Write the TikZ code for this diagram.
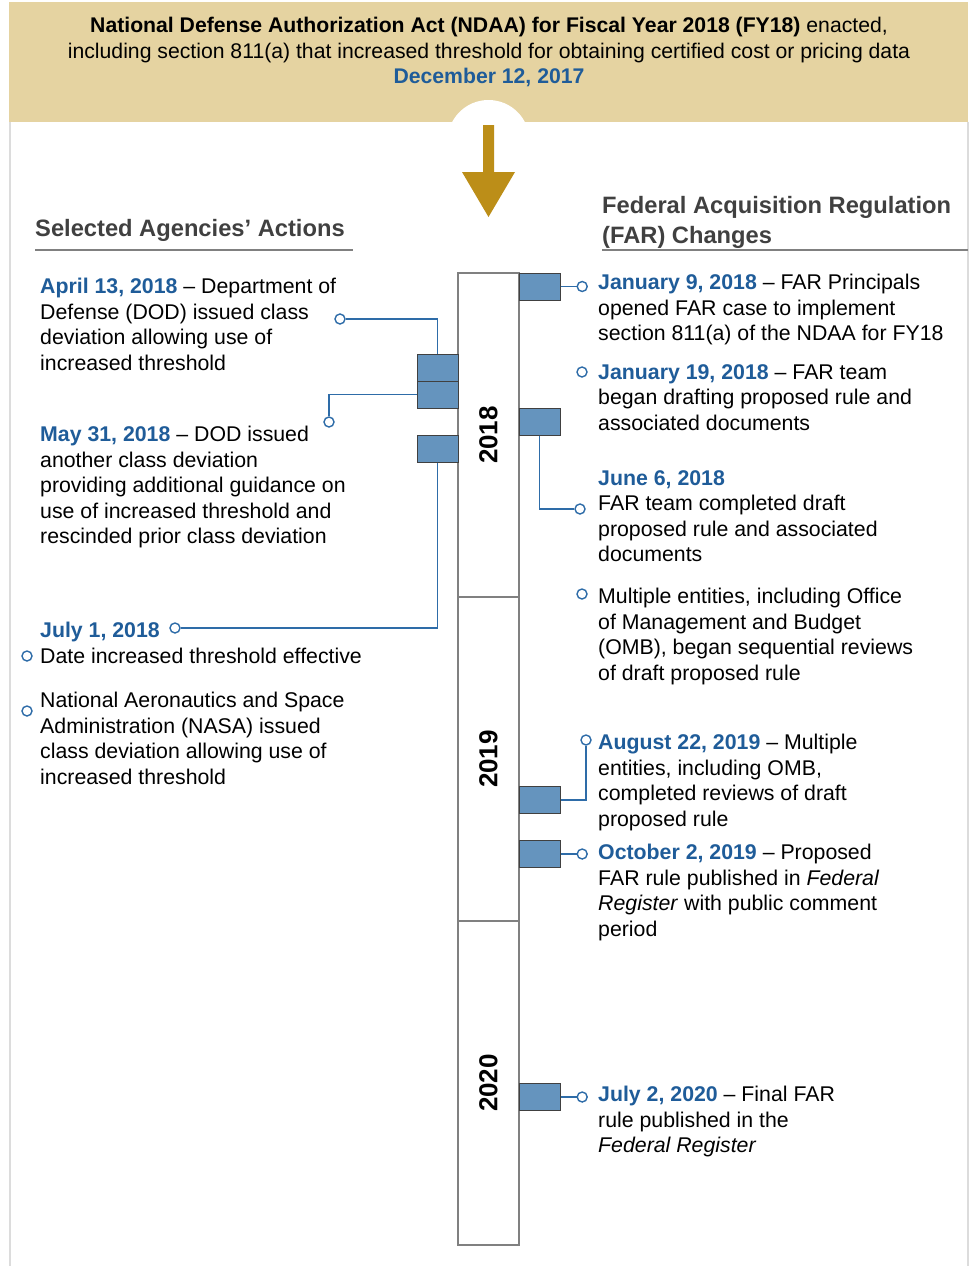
\documentclass[tikz,border=0pt]{standalone}
\usepackage{fontspec}
\setmainfont{Liberation Sans}
\usepackage{tikz}
\usetikzlibrary{positioning}
\definecolor{dateblue}{RGB}{31,92,153}
\definecolor{linkblue}{RGB}{46,108,168}
\definecolor{barblue}{RGB}{101,148,190}
\definecolor{bannertan}{RGB}{229,211,161}
\definecolor{arrowgold}{RGB}{188,142,24}
\definecolor{headgray}{RGB}{64,64,64}
\definecolor{edgegray}{RGB}{220,220,220}
\tikzstyle{banner_text} = [anchor=north, align=center, inner sep=0pt, font=\fontsize{21.2}{25.5}\selectfont]
\tikzstyle{heading} = [anchor=north west, align=left, inner sep=0pt, text=headgray, font=\bfseries\fontsize{23.7}{29.5}\selectfont]
\tikzstyle{entry} = [anchor=north west, align=left, inner sep=0pt, font=\fontsize{21.3}{25.5}\selectfont]
\tikzstyle{yearbox} = [rectangle, rotate=90, minimum width=324pt, minimum height=61pt, draw=gray, line width=1.2pt, fill=white, font=\bfseries\fontsize{26}{30}\selectfont]
\tikzstyle{bar} = [rectangle, minimum width=41pt, minimum height=27pt, inner sep=0pt, draw=headgray, line width=1pt, fill=barblue]
\tikzstyle{dot} = [circle, minimum size=10pt, inner sep=0pt, draw=linkblue, line width=1.4pt, fill=white]
\tikzstyle{link} = [draw=linkblue, line width=1.3pt]
\tikzstyle{rule} = [draw=gray, line width=1.6pt]
\newcommand{\datefmt}[1]{\textcolor{dateblue}{\textbf{#1}}}

\begin{document}
\begin{tikzpicture}[x=1pt, y=-1pt]
	\useasboundingbox (0,0) rectangle (972,1266);
	\fill[bannertan] (9,2) rectangle (968,122);
	\fill[white] (488.5,141) circle (41pt);
	\draw[edgegray, line width=1.5pt] (10,122) -- (10,1266);
	\draw[edgegray, line width=1.5pt] (968,122) -- (968,1266);
	\fill[arrowgold] (483,125) -- (494,125) -- (494,172) -- (515,172) -- (488.5,217) -- (462,172) -- (483,172) -- cycle;

	\node(title) [banner_text] at (489,17) {\textbf{National Defense Authorization Act (NDAA) for Fiscal Year 2018 (FY18)} enacted,\\including section 811(a) that increased threshold for obtaining certified cost or pricing data\\\datefmt{December 12, 2017}};

	\node(head_agencies) [heading] at (35,219.5) {Selected Agencies’ Actions};
	\node(head_far) [heading] at (602,196.5) {Federal Acquisition Regulation\\(FAR) Changes};
	\draw[rule] (35,250) -- (353,250);
	\draw[rule] (602,250) -- (968,250);

	\node(box_2018) [yearbox] at (488.5,435) {2018};
	\node(box_2019) [yearbox] at (488.5,759) {2019};
	\node(box_2020) [yearbox] at (488.5,1083) {2020};

	\node(bar_apr13) [bar] at (437.5,367.5) {};
	\node(bar_may31) [bar] at (437.5,394.5) {};
	\node(bar_jul1) [bar] at (437.5,448.5) {};
	\node(bar_jan9) [bar] at (539.5,286.5) {};
	\node(bar_jun6) [bar] at (539.5,421.5) {};
	\node(bar_aug22) [bar] at (539.5,800) {};
	\node(bar_oct2) [bar] at (539.5,854) {};
	\node(bar_jul2) [bar] at (539.5,1097) {};

	\node(dot_apr13) [dot] at (340,319) {};
	\node(dot_may31) [dot] at (329,422) {};
	\node(dot_jul1) [dot] at (175,628) {};
	\node(dot_date) [dot] at (27,656) {};
	\node(dot_nasa) [dot] at (27,711) {};
	\node(dot_jan9) [dot, right=16pt of bar_jan9] {};
	\node(dot_jan19) [dot] at (582,372) {};
	\node(dot_jun6) [dot] at (580,509) {};
	\node(dot_omb) [dot] at (582,594) {};
	\node(dot_aug22) [dot] at (586,740) {};
	\node(dot_oct2) [dot, right=16pt of bar_oct2] {};
	\node(dot_jul2) [dot, right=16pt of bar_jul2] {};

	\draw[link] (bar_apr13.north) |- (dot_apr13);
	\draw[link] (bar_may31.west) -| (dot_may31);
	\draw[link] (bar_jul1.south) |- (dot_jul1);
	\draw[link] (bar_jan9) -- (dot_jan9);
	\draw[link] (bar_jun6.south) |- (dot_jun6);
	\draw[link] (bar_aug22.east) -| (dot_aug22);
	\draw[link] (bar_oct2) -- (dot_oct2);
	\draw[link] (bar_jul2) -- (dot_jul2);

	\node(txt_apr13) [entry] at (40,278) {\datefmt{April 13, 2018} – Department of\\Defense (DOD) issued class\\deviation allowing use of\\increased threshold};
	\node(txt_may31) [entry] at (40,426) {\datefmt{May 31, 2018} – DOD issued\\another class deviation\\providing additional guidance on\\use of increased threshold and\\rescinded prior class deviation};
	\node(txt_jul1) [entry] at (40,622) {\datefmt{July 1, 2018}\\Date increased threshold effective};
	\node(txt_nasa) [entry] at (40,692) {National Aeronautics and Space\\Administration (NASA) issued\\class deviation allowing use of\\increased threshold};
	\node(txt_jan9) [entry] at (598,274) {\datefmt{January 9, 2018} – FAR Principals\\opened FAR case to implement\\section 811(a) of the NDAA for FY18};
	\node(txt_jan19) [entry] at (598,364) {\datefmt{January 19, 2018} – FAR team\\began drafting proposed rule and\\associated documents};
	\node(txt_jun6) [entry] at (598,470) {\datefmt{June 6, 2018}\\FAR team completed draft\\proposed rule and associated\\documents};
	\node(txt_omb) [entry] at (598,588) {Multiple entities, including Office\\of Management and Budget\\(OMB), began sequential reviews\\of draft proposed rule};
	\node(txt_aug22) [entry] at (598,734) {\datefmt{August 22, 2019} – Multiple\\entities, including OMB,\\completed reviews of draft\\proposed rule};
	\node(txt_oct2) [entry] at (598,844) {\datefmt{October 2, 2019} – Proposed\\FAR rule published in \textit{Federal}\\\textit{Register} with public comment\\period};
	\node(txt_jul2) [entry] at (598,1086) {\datefmt{July 2, 2020} – Final FAR\\rule published in the\\\textit{Federal Register}};
\end{tikzpicture}
\end{document}
